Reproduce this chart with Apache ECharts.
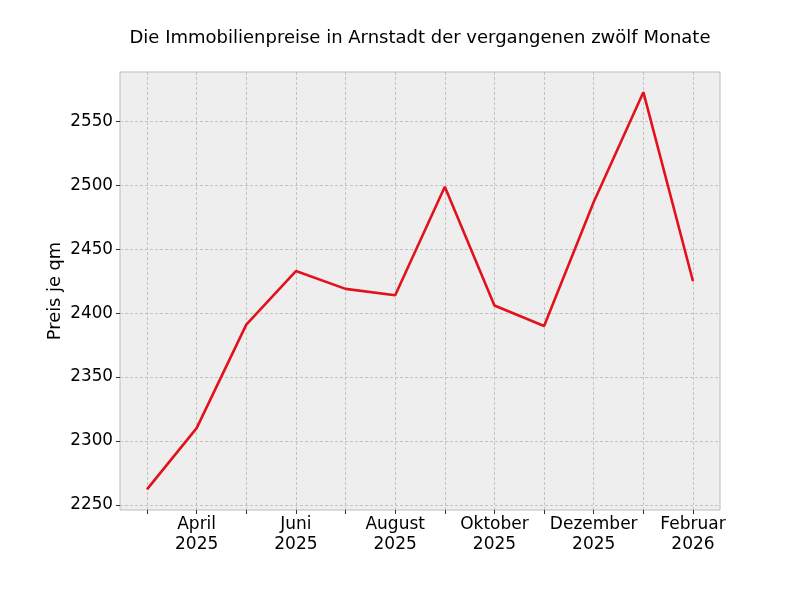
<!DOCTYPE html>
<html>
<head>
<meta charset="utf-8">
<script src="https://cdn.jsdelivr.net/npm/echarts@6/dist/echarts.min.js"></script>
<style>html,body{margin:0;padding:0;background:#fff}#c{width:800px;height:600px}</style>
</head>
<body>
<div id="c"></div>
<script>
const months = ['März 2025','April 2025','Mai 2025','Juni 2025','Juli 2025','August 2025','September 2025','Oktober 2025','November 2025','Dezember 2025','Januar 2026','Februar 2026'];
const tickLabels = ['', 'April\n2025', '', 'Juni\n2025', '', 'August\n2025', '', 'Oktober\n2025', '', 'Dezember\n2025', '', 'Februar\n2026'];
const prices = [2262, 2310, 2391, 2433, 2419, 2414, 2499, 2406, 2390, 2487, 2573, 2425];
const yTicks = [2250, 2300, 2350, 2400, 2450, 2500, 2550];

const FONT = 'DejaVu Sans';
const xIdx = months.map((m, i) => i);
const xLabelIdx = xIdx.filter(i => tickLabels[i]);
const chart = echarts.init(document.getElementById('c'));
const pts = prices.map((v, i) => [i, v]);
chart.setOption({
  animation: false,
  backgroundColor: '#ffffff',
  title: {
    text: 'Die Immobilienpreise in Arnstadt der vergangenen zwölf Monate',
    left: 415, top: 24, textAlign: 'center',
    textStyle: { fontFamily: FONT, fontSize: 18, fontWeight: 'normal', color: '#000' }
  },
  grid: { left: 120, right: 80, top: 72, bottom: 90, show: true, backgroundColor: '#eeeeee', borderColor: '#bcbcbc', borderWidth: 1 },
  xAxis: {
    type: 'value', min: -0.544, max: 11.544,
    axisLine: { show: false, onZero: false },
    axisTick: { show: true, length: 4, customValues: xIdx, lineStyle: { color: '#333' } },
    splitLine: { show: true, customValues: xIdx, lineStyle: { color: '#b8b8b8', type: [3, 2], width: 0.8 } },
    axisLabel: {
      fontFamily: FONT, fontSize: 17, color: '#000', margin: 5, lineHeight: 20,
      customValues: xLabelIdx,
      formatter: v => tickLabels[Math.round(v)] || ''
    }
  },
  yAxis: {
    type: 'value', min: 2245.9, max: 2588.8,
    name: 'Preis je qm', nameLocation: 'middle', nameGap: 56, nameRotate: 90,
    nameMoveOverlap: false,
    nameTextStyle: { fontFamily: FONT, fontSize: 17.8, color: '#000' },
    axisLine: { show: false, onZero: false },
    axisTick: { show: true, length: 4, customValues: yTicks, lineStyle: { color: '#333' } },
    splitLine: { show: true, customValues: yTicks, lineStyle: { color: '#b8b8b8', type: [3, 2], width: 0.8 } },
    axisLabel: {
      fontFamily: FONT, fontSize: 16.8, color: '#000', margin: 7,
      customValues: yTicks,
      formatter: v => String(v)
    }
  },
  series: [{
    type: 'line', data: pts, showSymbol: false, symbol: 'none',
    lineStyle: { color: '#e3111b', width: 2.6 }
  }]
});
</script>
</body>
</html>
